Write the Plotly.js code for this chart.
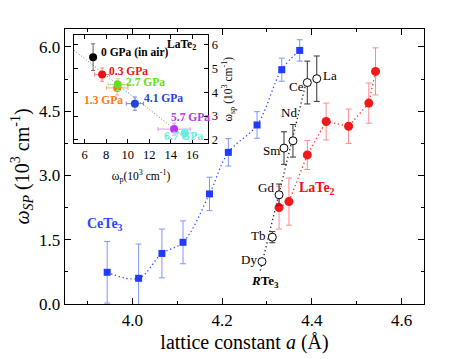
<!DOCTYPE html>
<html><head><meta charset="utf-8">
<script src="https://cdn.plot.ly/plotly-3.0.1.min.js"></script>
<style>html,body{margin:0;padding:0;background:#fff}#c{width:463px;height:359px}</style>
</head><body><div id="c"></div>
<script>
// CeTe3 under pressure (blue squares)
const ceX = [3.944, 4.014, 4.066, 4.113, 4.172, 4.214, 4.278, 4.333, 4.373];
const ceY = [0.74, 0.60, 1.18, 1.44, 2.57, 3.54, 4.18, 5.47, 5.92];
const ceErr = [0.72, 0.80, 0.57, 0.50, 0.39, 0.32, 0.31, 0.27, 0.25];
// LaTe2 under pressure (red circles)
const la2X = [4.327, 4.349, 4.390, 4.432, 4.482, 4.527, 4.542];
const la2Y = [2.25, 2.39, 3.48, 4.26, 4.15, 4.69, 5.43];
const la2Err = [0.50, 0.55, 0.34, 0.43, 0.40, 0.47, 0.55];
// RTe3 series (open circles)
const rNames = ['Dy', 'Tb', 'Gd', 'Sm', 'Nd', 'Ce', 'La'];
const rX = [4.289, 4.312, 4.327, 4.338, 4.358, 4.390, 4.411];
const rY = [0.99, 1.56, 2.55, 3.64, 3.81, 5.17, 5.26];
const rErr = [0.05, 0.13, 0.25, 0.38, 0.38, 0.50, 0.53];
// Inset: LaTe2 omega_sp vs omega_p
const pLabels = ['0 GPa (in air)', '0.3 GPa', '1.3 GPa', '2.7 GPa', '4.1 GPa', '5.7 GPa', '6.7 GPa'];
const wp = [6.78, 7.62, 9.02, 9.08, 10.67, 14.32, 15.32];
const wsp = [5.47, 4.74, 4.18, 4.32, 3.52, 2.45, 2.28];
const wpErr = [0.15, 0.7, 1.0, 0.9, 0.8, 1.5, 1.0];
const wspErr = [0.56, 0.28, 0.30, 0.25, 0.28, 0.25, 0.20];
const pColors = ['#000000', '#ee1111', '#ff7711', '#66dd22', '#2244dd', '#bb33ee', '#66eedd'];
const pErrColors = ['#666666', '#ff8080', '#ffaa70', '#a0ee80', '#7788ee', '#dd99f5', '#aaf5ea'];

function linfit(xs, ys) {
  const n = xs.length;
  const mx = xs.reduce((a, b) => a + b, 0) / n, my = ys.reduce((a, b) => a + b, 0) / n;
  let sxy = 0, sxx = 0;
  for (let i = 0; i < n; i++) { sxy += (xs[i] - mx) * (ys[i] - my); sxx += (xs[i] - mx) ** 2; }
  const s = sxy / sxx;
  return x => my + s * (x - mx);
}

const F = 'Liberation Serif, Times New Roman, serif';
const DOT = '1.3px,2.7px';
const traces = [];

// RTe3 fit line (Dy..Ce)
const rfX = rX.slice(0, 6), rfY = rY.slice(0, 6);
const rf = linfit(rfX, rfY);
const rL = [Math.min(...rfX) - 0.004, Math.max(...rfX)];
traces.push({x: rL, y: rL.map(rf), mode: 'lines', line: {color: '#222', dash: DOT, width: 1.3}, hoverinfo: 'skip'});

// CeTe3
traces.push({x: ceX, y: ceY, mode: 'lines', line: {color: '#3050ff', dash: DOT, width: 1.3, shape: 'spline', smoothing: 1}, hoverinfo: 'skip'});
traces.push({x: ceX, y: ceY, mode: 'markers', marker: {symbol: 'square', size: 7, color: '#1f3cff'},
  error_y: {type: 'data', array: ceErr, color: '#7f95ff', thickness: 1, width: 3}});

// LaTe2
traces.push({x: la2X, y: la2Y, mode: 'lines+markers', line: {color: '#ff3030', dash: DOT, width: 1.3},
  marker: {symbol: 'circle', size: 9, color: '#f01818'},
  error_y: {type: 'data', array: la2Err, color: '#ff8a8a', thickness: 1, width: 3}});

// RTe3 open circles
traces.push({x: rX, y: rY, mode: 'markers', marker: {symbol: 'circle', size: 8, color: '#ffffff', line: {color: '#000', width: 1}},
  error_y: {type: 'data', array: rErr, color: '#333', thickness: 1, width: 3}});

// Inset fit
const inf = linfit(wp, wsp);
const iL = [5, 16.6];
traces.push({x: iL, y: iL.map(inf), xaxis: 'x2', yaxis: 'y2', mode: 'lines', line: {color: '#555', dash: '1px,2px', width: 0.8}, hoverinfo: 'skip'});
for (let i = 0; i < wp.length; i++) {
  traces.push({x: [wp[i]], y: [wsp[i]], xaxis: 'x2', yaxis: 'y2', mode: 'markers',
    marker: {symbol: 'circle', size: 8, color: pColors[i]},
    error_x: {type: 'data', array: [wpErr[i]], color: pErrColors[i], thickness: 1, width: 2},
    error_y: {type: 'data', array: [wspErr[i]], color: pErrColors[i], thickness: 1, width: 2}});
}

const ann = [];
function A(text, x, y, opts) { ann.push(Object.assign({text: text, x: x, y: y, xref: 'x', yref: 'y', showarrow: false, font: {family: F, size: 13, color: '#000'}}, opts || {})); }
A('<b>CeTe<sub>3</sub></b>', 3.94, 1.85, {font: {family: F, size: 14, color: '#2a48ff'}});
A('<b>LaTe<sub>2</sub></b>', 4.412, 2.70, {font: {family: F, size: 14, color: '#ee1111'}});
A('Dy', 4.259, 1.04);
A('Tb', 4.279, 1.60);
A('Gd', 4.298, 2.73);
A('Sm', 4.310, 3.58);
A('Nd', 4.350, 4.46);
A('Ce', 4.366, 5.08);
A('La', 4.440, 5.33);
A('<b><i>R</i>Te<sub>3</sub></b>', 4.296, 0.52);
// inset labels
const ipos = [[7.31, 5.65], [8.08, 4.88], [5.75, 3.68], [9.64, 4.43], [11.36, 3.74], [13.85, 2.96], [13.22, 2.18]];
for (let i = 0; i < pLabels.length; i++) {
  ann.push({text: '<b>' + pLabels[i] + '</b>', x: ipos[i][0], y: ipos[i][1], xref: 'x2', yref: 'y2', xanchor: 'left', showarrow: false,
    font: {family: F, size: 11.5, color: pColors[i]}});
}
ann.push({text: '<b>LaTe<sub>2</sub></b>', x: 13.5, y: 6.0, xref: 'x2', yref: 'y2', xanchor: 'left', showarrow: false, font: {family: F, size: 11.5, color: '#000'}});

const ax = {showline: true, linecolor: '#000', linewidth: 1.3, mirror: 'ticks', ticks: 'inside', ticklen: 6, tickcolor: '#000', zeroline: false, showgrid: false};
const layout = {
  width: 463, height: 359, margin: {l: 65, r: 39, t: 29, b: 55},
  paper_bgcolor: '#fff', plot_bgcolor: '#fff', showlegend: false,
  font: {family: F, color: '#000'},
  xaxis: Object.assign({}, ax, {range: [3.85, 4.65], dtick: 0.2, tick0: 4.0, tickformat: '.1f', tickfont: {size: 17, family: F},
    minor: {dtick: 0.1, ticks: 'inside', ticklen: 3, tickcolor: '#000'},
    title: {text: 'lattice constant <i>a</i> (Å)', font: {size: 20, family: F}, standoff: 6}}),
  yaxis: Object.assign({}, ax, {range: [0, 6.42], dtick: 1.5, tick0: 0, tickformat: '.1f', tickfont: {size: 17, family: F},
    minor: {dtick: 0.75, ticks: 'inside', ticklen: 3, tickcolor: '#000'},
    title: {text: '<i>ω<sub>SP</sub></i> (10<sup>3</sup> cm<sup>-1</sup>)', font: {size: 20, family: F}, standoff: 4}}),
  xaxis2: Object.assign({}, ax, {domain: [0.025, 0.399], anchor: 'y2', range: [5, 17.5], dtick: 2, tick0: 6, ticklen: 4, linewidth: 1,
    tickfont: {size: 12.5, family: F}, title: {text: 'ω<sub>p</sub>(10<sup>3</sup> cm<sup>-1</sup>)', font: {size: 11.5, family: F}, standoff: 10}}),
  yaxis2: Object.assign({}, ax, {domain: [0.584, 0.978], anchor: 'x2', side: 'right', range: [1.85, 6.4], dtick: 1, ticklen: 4, linewidth: 1,
    tickfont: {size: 12.5, family: F}, title: {text: 'ω<sub>sp</sub> (10<sup>3</sup> cm<sup>-1</sup>)', font: {size: 11.5, family: F}, standoff: 6}}),
  annotations: ann
};
Plotly.newPlot('c', traces, layout, {displayModeBar: false, staticPlot: true});
</script></body></html>
